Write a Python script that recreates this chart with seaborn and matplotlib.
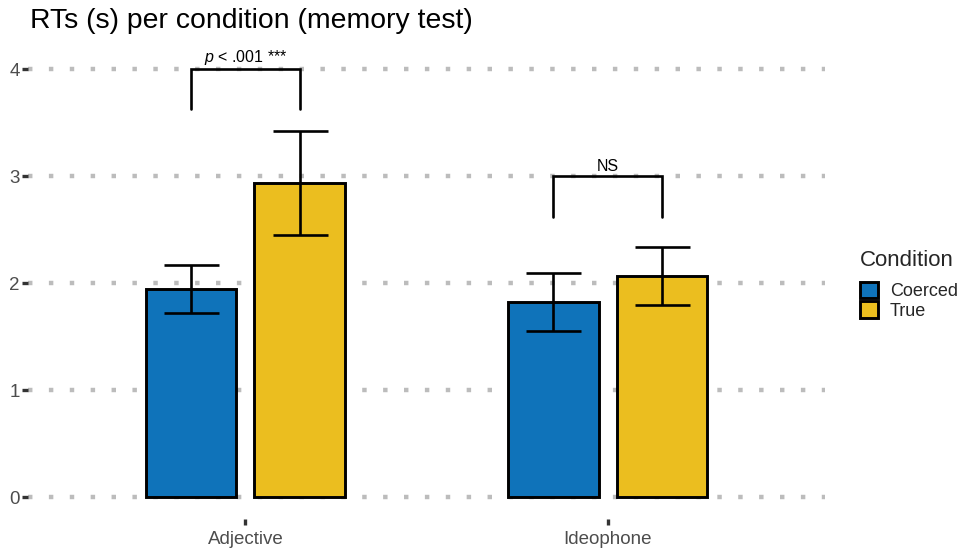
import matplotlib
matplotlib.use("Agg")
import matplotlib.pyplot as plt
import seaborn as sns
import pandas as pd
from matplotlib.patches import Patch

# Mean RTs (s) with lower / upper error bounds
word_types = ["Adjective", "Ideophone"]
conditions = ["Coerced", "True"]
mean_coerced = [1.95, 1.83]
mean_true = [2.94, 2.07]
lower_coerced = [1.725, 1.56]
upper_coerced = [2.17, 2.10]
lower_true = [2.45, 1.80]
upper_true = [3.42, 2.34]

# Significance brackets per word type
sig_labels = ["$\\it{p}$ < .001 ***", "NS"]
bracket_top = [4.0, 3.0]
bracket_leg = [3.63, 2.62]

palette = {"Coerced": "#0F73BA", "True": "#EBBE1F"}

df = pd.DataFrame({
    "Type": word_types * 2,
    "Condition": ["Coerced"] * 2 + ["True"] * 2,
    "RT": mean_coerced + mean_true,
    "lo": lower_coerced + lower_true,
    "hi": upper_coerced + upper_true,
})

sns.set_style("white")
plt.rcParams["font.family"] = ["Liberation Sans", "DejaVu Sans"]
plt.rcParams["mathtext.fontset"] = "custom"
plt.rcParams["mathtext.it"] = "Liberation Sans:italic"
plt.rcParams["mathtext.rm"] = "Liberation Sans"

fig = plt.figure(figsize=(9.65, 5.52), dpi=100)
ax = fig.add_axes([0.029, 0.060, 0.826, 0.853])

sns.barplot(data=df, x="Type", y="RT", hue="Condition", order=word_types,
            hue_order=conditions, palette=palette, width=0.6, gap=0.167,
            saturation=1, errorbar=None, edgecolor="black", linewidth=2.1,
            ax=ax, legend=False, zorder=3)

# Error bars positioned at bar centres
centers = {}
for cond, container in zip(conditions, ax.containers):
    sub = df[df["Condition"] == cond].set_index("Type").loc[word_types]
    xs = [p.get_x() + p.get_width() / 2 for p in container.patches]
    centers[cond] = xs
    for x, m, lo, hi in zip(xs, sub["RT"], sub["lo"], sub["hi"]):
        ax.errorbar(x, m, yerr=[[m - lo], [hi - m]], fmt="none", ecolor="black",
                    elinewidth=1.9, capsize=19.8, capthick=1.9, zorder=4)

# Significance brackets
for i, lab in enumerate(sig_labels):
    x0, x1 = centers["Coerced"][i], centers["True"][i]
    ax.plot([x0, x0, x1, x1], [bracket_leg[i], bracket_top[i], bracket_top[i], bracket_leg[i]],
            color="black", lw=1.9, zorder=5, solid_joinstyle="miter")
    ax.text((x0 + x1) / 2, bracket_top[i] + 0.02, lab, ha="center", va="bottom",
            fontsize=11.5, color="black", zorder=6)

ax.set_xlim(-0.6, 1.6)
ax.set_ylim(-0.2, 4.2)
ax.set_yticks([0, 1, 2, 3, 4])
ax.set_yticklabels(["0", "1", "2", "3", "4"])
ax.set_xlabel("")
ax.set_ylabel("")

ax.yaxis.grid(True, color="#bcbcbc", linestyle=(0, (1, 3.7)), linewidth=3.2, zorder=0)
ax.xaxis.grid(False)
ax.set_axisbelow(True)
for s in ax.spines.values():
    s.set_visible(False)

ax.tick_params(axis="both", which="both", length=4, width=2.4, color="#333333",
               labelsize=13.5, labelcolor="#4d4d4d", left=True, bottom=True, pad=2)
ax.tick_params(axis="x", pad=5)

fig.text(0.031, 0.962, "RTs (s) per condition (memory test)", fontsize=20.4,
         ha="left", va="center", color="black")

handles = [Patch(facecolor=palette[c], edgecolor="black", linewidth=2.1, label=c)
           for c in conditions]
leg = fig.legend(handles=handles, title="Condition", loc="upper left",
                 bbox_to_anchor=(0.884, 0.560), frameon=False, fontsize=13,
                 title_fontsize=16, handlelength=1.0, handleheight=1.0,
                 labelspacing=0.05, handletextpad=0.65, borderaxespad=0)
leg._legend_box.align = "left"
leg._legend_box.sep = 8

fig.savefig("out.png", dpi=100)
